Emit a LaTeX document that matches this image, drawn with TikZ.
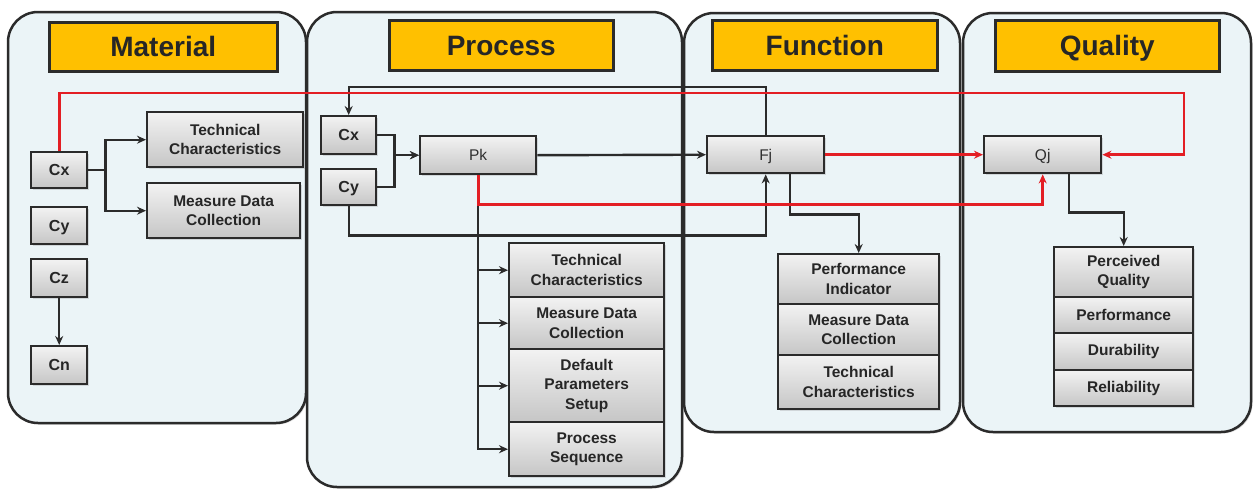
\documentclass[tikz,border=0pt]{standalone}
\usepackage{fontspec}
\setmainfont{Liberation Sans}
\usetikzlibrary{arrows.meta,shadows,calc}
\definecolor{panelbg}{HTML}{EBF4F7}
\definecolor{edge}{HTML}{2B2B2B}
\definecolor{titlefill}{HTML}{FFC000}
\definecolor{txt}{HTML}{262626}
\definecolor{redline}{HTML}{E31E24}
\tikzset{
  panel/.style={draw=edge, line width=2.5pt, fill=panelbg, rounded corners=30pt,
    drop shadow={opacity=0.25, shadow xshift=1.5pt, shadow yshift=-1.5pt}},
  titlebox/.style={draw=edge, line width=2.5pt, fill=titlefill, anchor=north west, inner sep=0pt,
    text=txt, font=\bfseries\fontsize{28}{32}\selectfont, text height=20pt, text depth=0pt,
    drop shadow={opacity=0.25, shadow xshift=1.5pt, shadow yshift=-1.5pt}},
  box/.style={draw=edge, line width=2.4pt, top color=gray!10, bottom color=gray!45,
    anchor=north west, inner sep=0pt, align=center, text=txt,
    font=\bfseries\fontsize{15.5}{19.5}\selectfont,
    drop shadow={opacity=0.25, shadow xshift=1.5pt, shadow yshift=-1.5pt}},
  cbox/.style={box, font=\bfseries\fontsize{16}{19}\selectfont, text height=11.5pt, text depth=0pt},
  plainbox/.style={box, text=black!82, font=\fontsize{15.5}{19}\selectfont, text height=11pt, text depth=0pt},
  arr/.style={draw=edge, line width=2.4pt, -{Stealth[length=9pt,width=8pt]}},
  redarr/.style={draw=redline, line width=2.8pt, -{Stealth[length=9pt,width=8pt]}},
}
\begin{document}
\begin{tikzpicture}[x=1pt,y=-1pt]
\useasboundingbox (0,0) rectangle (1253,490);
\fill[white] (0,0) rectangle (1253,490);
% panels
\draw[panel] (8,12) rectangle (306,423);
\draw[panel] (307,12) rectangle (682,487);
\draw[panel] (684,13) rectangle (960,432);
\draw[panel] (963,13) rectangle (1251,432);
% titles
\node[titlebox, minimum width=228pt, minimum height=49pt] (tM) at (48,21) {Material};
\node[titlebox, minimum width=224pt, minimum height=50pt] (tP) at (388,19) {Process};
\node[titlebox, minimum width=225pt, minimum height=50pt] (tF) at (711,19) {Function};
\node[titlebox, minimum width=224pt, minimum height=51pt] (tQ) at (994,19) {Quality};
% material
\node[cbox, minimum width=56pt, minimum height=36pt] (mCx) at (30,151) {Cx};
\node[cbox, minimum width=56pt, minimum height=37pt] (mCy) at (30,206) {Cy};
\node[cbox, minimum width=56pt, minimum height=38pt] (mCz) at (30,258) {Cz};
\node[cbox, minimum width=56pt, minimum height=38pt] (mCn) at (30,345) {Cn};
\node[box, minimum width=156pt, minimum height=55pt] (mTC) at (146,111) {Technical\\Characteristics};
\node[box, minimum width=153pt, minimum height=55pt] (mMD) at (146,182) {Measure Data\\Collection};
% process
\node[cbox, minimum width=55pt, minimum height=38pt] (pCx) at (320,115) {Cx};
\node[cbox, minimum width=55pt, minimum height=36pt] (pCy) at (320,168) {Cy};
\node[plainbox, minimum width=116pt, minimum height=38pt] (Pk) at (419,135) {Pk};
\node[box, minimum width=155pt, minimum height=54pt] (pTC) at (508,242) {Technical\\Characteristics};
\node[box, minimum width=155pt, minimum height=52pt] (pMD) at (508,296) {Measure Data\\Collection};
\node[box, minimum width=155pt, minimum height=73pt] (pDP) at (508,348) {Default\\Parameters\\Setup};
\node[box, minimum width=155pt, minimum height=54pt] (pPS) at (508,421) {Process\\Sequence};
% function
\node[plainbox, minimum width=117pt, minimum height=37pt] (Fj) at (706,135) {Fj};
\node[box, minimum width=161pt, minimum height=50pt] (fPI) at (777,253) {Performance\\Indicator};
\node[box, minimum width=161pt, minimum height=51pt] (fMD) at (777,303) {Measure Data\\Collection};
\node[box, minimum width=161pt, minimum height=54pt] (fTC) at (777,354) {Technical\\Characteristics};
% quality
\node[plainbox, minimum width=117pt, minimum height=37pt] (Qj) at (983,135) {Qj};
\node[box, minimum width=139pt, minimum height=50pt] (qPQ) at (1053,246) {Perceived\\Quality};
\node[box, minimum width=139pt, minimum height=36pt] (qPe) at (1053,296) {Performance};
\node[box, minimum width=139pt, minimum height=37pt] (qDu) at (1053,332) {Durability};
\node[box, minimum width=139pt, minimum height=36pt] (qRe) at (1053,369) {Reliability};
% material connectors
\draw[arr] (mCx.east) -- ++(17,0) |- (mTC.west);
\draw[arr] (mCx.east) -- ++(17,0) |- (mMD.west);
\draw[arr] (mCz) -- (mCn);
% process connectors
\draw[arr] (pCx.east) -- ++(17,0) |- (Pk.west);
\draw[arr] (pCy.east) -- ++(17,0) |- (Pk.west);
\draw[arr] (Pk.south) |- (pTC.west);
\draw[arr] (Pk.south) |- (pMD.west);
\draw[arr] (Pk.south) |- (pDP.west);
\draw[arr] (Pk.south) |- (pPS.west);
\draw[arr] (Pk.east) -- (Fj.west);
\draw[arr] (Fj.north) -- ++(0,-48) -| (pCx.north);
\draw[arr] (pCy.south) -- ++(0,29) -| (Fj.south);
% function / quality connectors
\draw[arr] ([xshift=24pt]Fj.south) -- ++(0,40) -| (fPI.north);
\draw[arr] ([xshift=26.5pt]Qj.south) -- ++(0,38) -| (qPQ.north);
% red connectors
\coordinate (rt) at (1184,93);
\draw[redarr] (mCx.north) |- (rt) |- (Qj.east);
\draw[redarr] (Pk.south) -- ++(0,29) -| (Qj.south);
\draw[redarr] (Fj.east) -- (Qj.west);
\end{tikzpicture}
\end{document}
